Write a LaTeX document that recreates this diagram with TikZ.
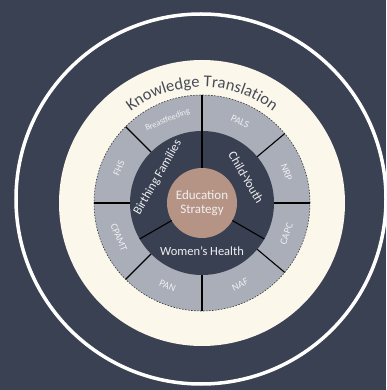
\documentclass[tikz,border=0pt]{standalone}
\usepackage{fontspec}
\setmainfont{Carlito}
\usetikzlibrary{decorations.text}
\definecolor{bgc}{HTML}{3A4152}
\definecolor{cream}{HTML}{FBF7EA}
\definecolor{segc}{HTML}{A9AEB9}
\definecolor{ringc}{HTML}{394052}
\definecolor{tanc}{HTML}{B59385}
\definecolor{ktc}{HTML}{474C57}
\definecolor{labc}{HTML}{F0F0F0}
\begin{document}
\begin{tikzpicture}[x=1pt,y=1pt,
  seglab/.style={text=labc, font=\fontsize{10}{11}\selectfont, inner sep=0pt},
  ringlab/.style={text=labc, font=\fontsize{12.5}{13}\selectfont, inner sep=0pt},
  divline/.style={black, line width=1.1pt}]
\fill[bgc] (-202,-187) rectangle (184,203);
\useasboundingbox (-202,-187) rectangle (184,203);
\draw[white, line width=3.5pt] (-1,4) circle[radius=185];
\fill[cream] (0,0) circle[radius=143];
\fill[segc] (0,0) circle[radius=108];
\draw[black!80, line width=0.6pt, dash pattern=on 1.5pt off 1.5pt] (0,0) circle[radius=108];
\fill[ringc] (0,0) circle[radius=72];
\fill[tanc] (0,0) circle[radius=35];
\foreach \a in {90,135,180,225,270,320,0,40} \draw[divline] (\a:72) -- (\a:108);
\foreach \a in {90,210,330} \draw[divline] (\a:35) -- (\a:72);
\node[seglab, font=\fontsize{8.5}{9}\selectfont, rotate=22.5] (bf) at (112.5:90) {Breastfeeding};
\node[seglab, rotate=-25] (pals) at (65:90) {PALS};
\node[seglab, rotate=-70] (nrp) at (20:90) {NRP};
\node[seglab, rotate=70] (capc) at (-20:90) {CAPC};
\node[seglab, rotate=25] (naf) at (-65:90) {NAF};
\node[seglab, rotate=-22.5] (pan) at (247.5:90) {PAN};
\node[seglab, rotate=-67.5] (cpamt) at (202.5:90) {CPAMT};
\node[seglab, rotate=67.5] (fhs) at (157.5:90) {FHS};
\node[ringlab, rotate=60] (bfam) at (150:51) {Birthing Families};
\node[ringlab, rotate=-60] (cy) at (30:51) {Child-Youth};
\node[ringlab] (wh) at (270:48) {Women’s Health};
\node[ringlab, font=\fontsize{13}{14}\selectfont, align=center] (edu) at (0,0) {Education\\Strategy};
\path[decorate, decoration={text along path, text align=center,
  text={|\fontsize{16.5}{16.5}\selectfont\color{ktc}|Knowledge Translation}}]
  (165:116) arc[start angle=165, end angle=15, radius=116];
\end{tikzpicture}
\end{document}
